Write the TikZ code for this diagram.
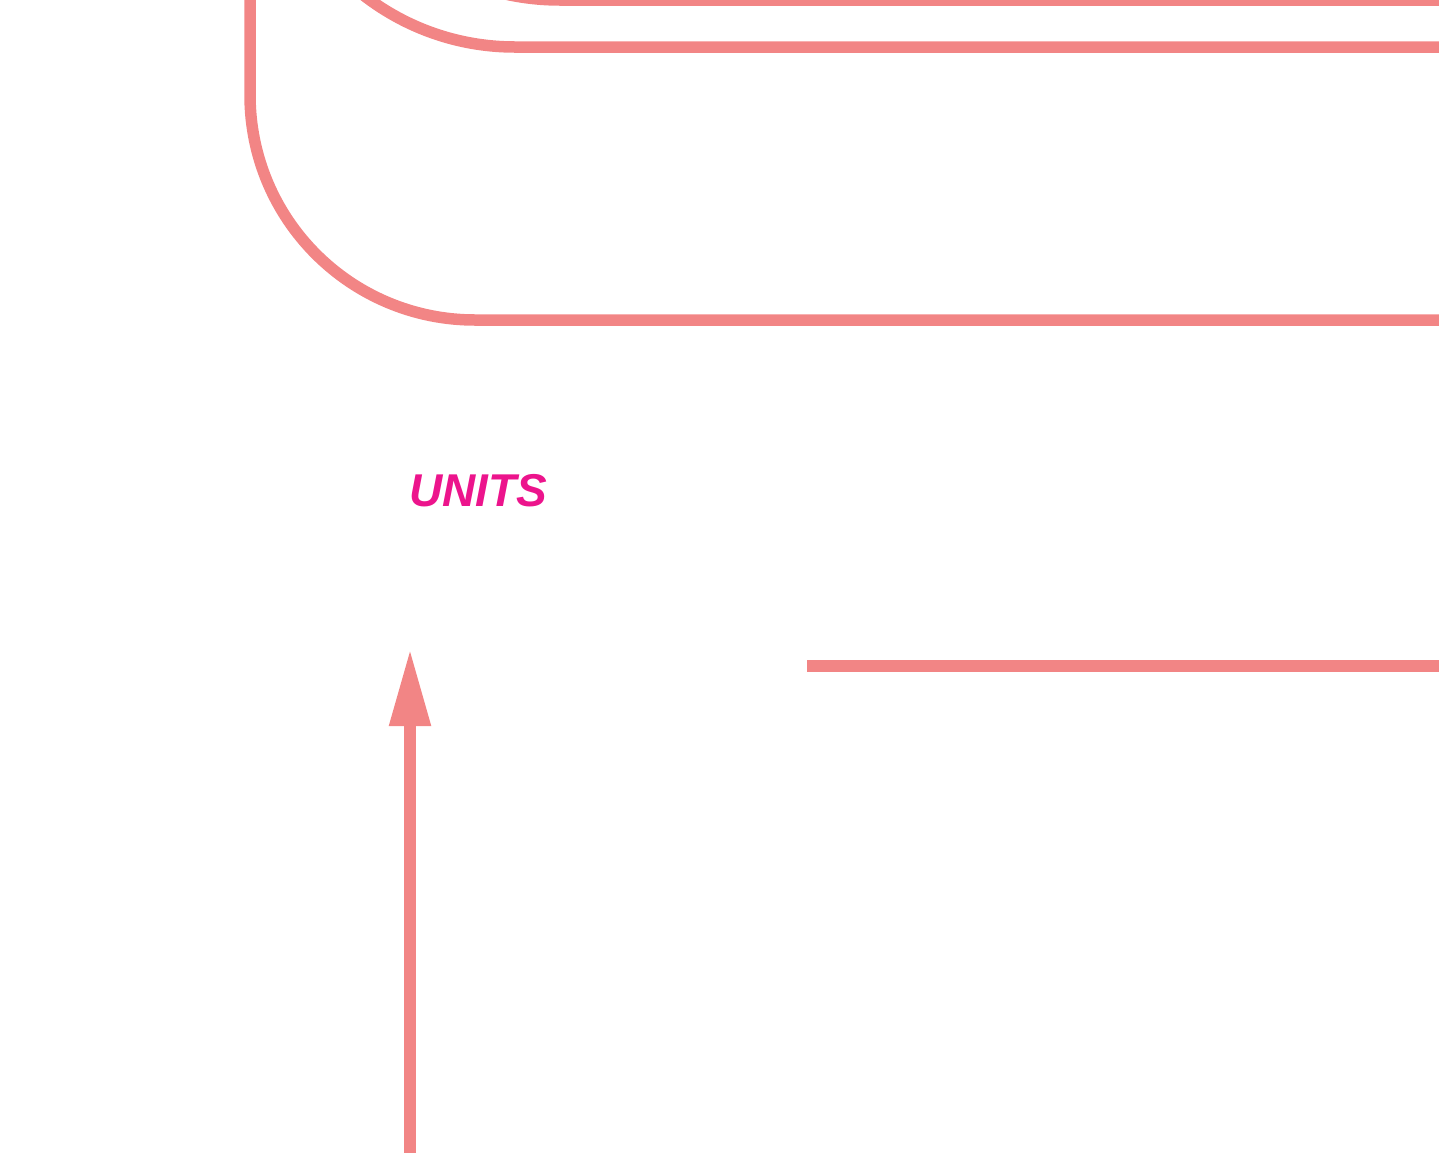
\documentclass[tikz,border=0pt]{standalone}
\usepackage{fontspec}
\setmainfont{Liberation Sans}
\usetikzlibrary{arrows.meta}
\definecolor{salmon}{HTML}{F28585}
\definecolor{unitpink}{HTML}{EC148C}
\tikzset{
  wire/.style={draw=salmon, line width=11.5pt},
  arrowwire/.style={wire, -{Triangle[width=39pt,length=77pt]}},
  unitlabel/.style={text=unitpink, font=\fontsize{46}{50}\selectfont\bfseries\itshape, inner sep=0pt, anchor=base west}
}
\begin{document}
\begin{tikzpicture}[x=1pt,y=-1pt]
\useasboundingbox (0,0) rectangle (1439,1152);
\clip (0,0) rectangle (1439,1152);
% outer rounded frame
\coordinate (o1) at (250,-20);
\coordinate (o2) at (250,320);
\coordinate (o3) at (1460,320);
\draw[wire, rounded corners=225pt] (o1) -- (o2) -- (o3);
% second curve
\coordinate (m1) at (268,-450);
\coordinate (m2) at (268,47);
\coordinate (m3) at (1460,47);
\draw[wire, rounded corners=247pt] (m1) -- (m2) -- (m3);
% third curve
\coordinate (t1) at (310,-450);
\coordinate (t2) at (310,0);
\coordinate (t3) at (1460,0);
\draw[wire, rounded corners=250pt] (t1) -- (t2) -- (t3);
% label
\node[unitlabel] (units) at (409,506) {UNITS};
% horizontal line
\coordinate (h1) at (807,666);
\coordinate (h2) at (1460,666);
\draw[wire] (h1) -- (h2);
% arrow
\coordinate (a1) at (410,1170);
\coordinate (a2) at (410,649);
\draw[arrowwire] (a1) -- (a2);
\end{tikzpicture}
\end{document}
